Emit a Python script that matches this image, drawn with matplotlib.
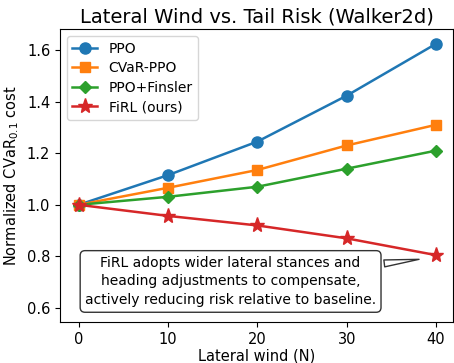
import numpy as np
import matplotlib.pyplot as plt

wind = [0, 10, 20, 30, 40]
ppo = [1.0, 1.115, 1.245, 1.423, 1.624]
cvar_ppo = [1.0, 1.066, 1.135, 1.23, 1.31]
ppo_finsler = [1.0, 1.031, 1.07, 1.14, 1.21]
firl = [1.0, 0.957, 0.92, 0.87, 0.805]

fig = plt.figure(figsize=(4.54, 3.63), dpi=100)
ax = fig.add_axes([0.132, 0.113, 0.866, 0.807])
ax.plot(wind, ppo, marker='o', markersize=8, lw=1.8, label='PPO')
ax.plot(wind, cvar_ppo, marker='s', markersize=7.5, lw=1.8, label='CVaR-PPO')
ax.plot(wind, ppo_finsler, marker='D', markersize=6.5, lw=1.8, label='PPO+Finsler')
ax.plot(wind, firl, marker='*', markersize=11, lw=1.8, label='FiRL (ours)')

ax.set_xlim(-2.1, 41.9)
ax.set_ylim(0.546, 1.681)
ax.set_xticks([0, 10, 20, 30, 40])
ax.set_yticks([0.6, 0.8, 1.0, 1.2, 1.4, 1.6])
ax.tick_params(labelsize=10.5)
ax.set_xlabel('Lateral wind (N)', fontsize=10.5, labelpad=1)
ax.set_ylabel('Normalized CVaR$_{0.1}$ cost', fontsize=10.5)
ax.set_title('Lateral Wind vs. Tail Risk (Walker2d)', fontsize=14, pad=5)
ax.legend(loc='upper left', fontsize=10, labelspacing=0.4, handlelength=1.8)

ax.annotate('FiRL adopts wider lateral stances and\nheading adjustments to compensate,\nactively reducing risk relative to baseline.',
            xy=(38.4, 0.79), xytext=(17.0, 0.703), fontsize=10, ha='center', va='center',
            linespacing=1.45,
            bbox=dict(boxstyle='round,pad=0.35', fc='white', ec='#333333'),
            arrowprops=dict(arrowstyle='wedge,tail_width=0.5', fc='white', ec='#333333'))

fig.savefig('out.png')
